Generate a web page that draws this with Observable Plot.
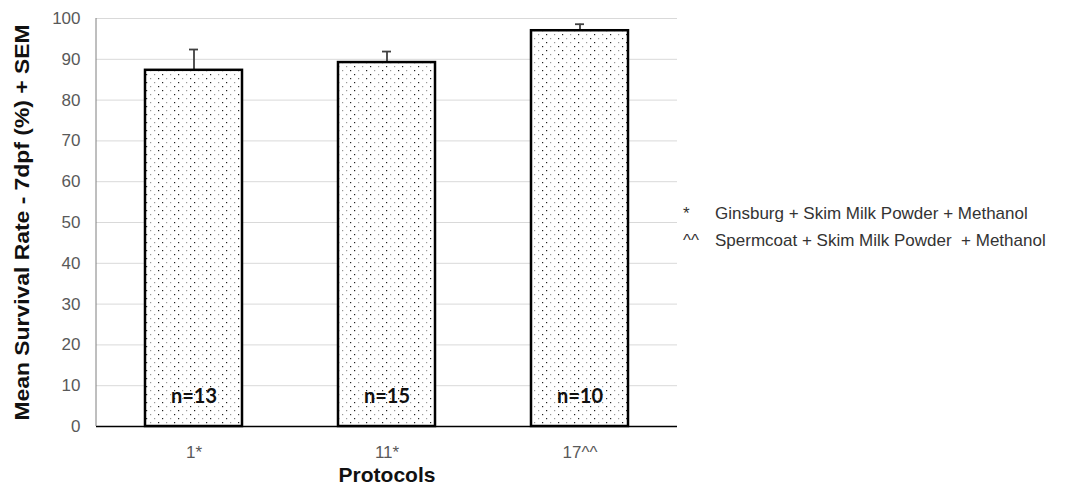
<!DOCTYPE html>
<html>
<head>
<meta charset="utf-8">
<script src="https://cdn.jsdelivr.net/npm/d3@7"></script>
<script src="https://cdn.jsdelivr.net/npm/@observablehq/plot@0.6"></script>
<style>
  html, body { margin: 0; padding: 0; background: #fff; }
  #wrap { position: relative; width: 1088px; height: 488px; font-family: "Liberation Sans", Arial, sans-serif; }
  #key { position: absolute; left: 683px; top: 200px; font-size: 17px; color: #333; line-height: 27px; }
  #key .row { display: flex; white-space: pre; }
  #key .sym { width: 32px; }
</style>
</head>
<body>
<div id="wrap">
  <div id="chart"></div>
  <div id="key"></div>
</div>
<script>
// Survival at 7 dpf for each cryopreservation protocol
const protocols = ["1*", "11*", "17^^"];
const meanSurvival = [87.3, 89.2, 97.0];
const sem = [5.1, 2.7, 1.6];
const sampleSizes = ["n=13", "n=15", "n=10"];
const yTicks = [0, 10, 20, 30, 40, 50, 60, 70, 80, 90, 100];
const yTitle = "Mean Survival Rate - 7dpf (%) + SEM";
const xTitle = "Protocols";
const keySymbols = ["*", "^^"];
const keyTexts = ["Ginsburg + Skim Milk Powder + Methanol", "Spermcoat + Skim Milk Powder  + Methanol"];

const rows = protocols.map((p, i) => ({
  protocol: p, mean: meanSurvival[i], top: meanSurvival[i] + sem[i], n: sampleSizes[i]
}));

const font = "Liberation Sans, Arial, sans-serif";

const chart = Plot.plot({
  width: 1088,
  height: 488,
  marginLeft: 96,
  marginRight: 411,
  marginTop: 18,
  marginBottom: 62,
  style: { fontFamily: font, background: "#fff" },
  x: { domain: protocols, paddingInner: 0.5, paddingOuter: 0.25, label: null },
  y: { domain: [0, 100], label: null },
  marks: [
    Plot.gridY(yTicks, { stroke: "#d9d9d9", strokeOpacity: 1, strokeWidth: 1 }),
    Plot.axisY(yTicks, { tickSize: 0, tickPadding: 16, fontSize: 17, fill: "#595959", label: null }),
    Plot.axisX({ tickSize: 0, tickPadding: 19, fontSize: 17, fill: "#595959", label: null }),
    Plot.ruleX(rows, { x: "protocol", y1: "mean", y2: "top", stroke: "#404040", strokeWidth: 1.8 }),
    Plot.tickY(rows, { x: "protocol", y: "top", stroke: "#404040", strokeWidth: 1.8, insetLeft: 44, insetRight: 44 }),
    Plot.barY(rows, { x: "protocol", y: "mean", fill: "url(#dots)", stroke: "#000", strokeWidth: 2.5 }),
    Plot.ruleY([0], { stroke: "#000", strokeWidth: 1.5 }),
    Plot.text(rows, { x: "protocol", y: 0, text: "n", dy: -30, fontSize: 20, fontWeight: "bold", fill: "#111", fontFamily: "Lato, sans-serif" }),
    Plot.text([yTitle], { frameAnchor: "left", textAnchor: "middle", rotate: -90, dx: -74, fontSize: 20, fontWeight: "bold", fill: "#111", className: "ytitle" }),
    Plot.text([xTitle], { frameAnchor: "bottom", dy: 55, fontSize: 21, fontWeight: "bold", fill: "#111" })
  ]
});

const svg = d3.select(chart);

// The value-axis title runs the full height of the plot area
svg.selectAll(".ytitle text")
  .attr("textLength", 396)
  .attr("lengthAdjust", "spacingAndGlyphs");

// Vertical value axis line along the left edge of the plot area
const xs = chart.scale("x");
const ys = chart.scale("y");
svg.append("line")
  .attr("x1", xs.range[0]).attr("x2", xs.range[0])
  .attr("y1", ys.range[0]).attr("y2", ys.range[1])
  .attr("stroke", "#7f7f7f").attr("stroke-width", 1);

// Dotted fill used by the bars
const pat = svg.insert("defs", ":first-child")
  .append("pattern")
  .attr("id", "dots")
  .attr("patternUnits", "userSpaceOnUse")
  .attr("width", 16)
  .attr("height", 8);
pat.append("rect").attr("width", 16).attr("height", 8).attr("fill", "#fff");
[[2, 2, "#222"], [10, 2, "#999"], [6, 6, "#999"], [14, 6, "#222"]].forEach(([x, y, c]) => {
  pat.append("rect").attr("x", x).attr("y", y).attr("width", 1.2).attr("height", 1.2).attr("fill", c);
});

document.getElementById("chart").appendChild(chart);

// Key for the protocol footnote symbols
const key = d3.select("#key");
keySymbols.forEach((s, i) => {
  const r = key.append("div").attr("class", "row");
  r.append("span").attr("class", "sym").text(s);
  r.append("span").text(keyTexts[i]);
});
</script>
</body>
</html>
